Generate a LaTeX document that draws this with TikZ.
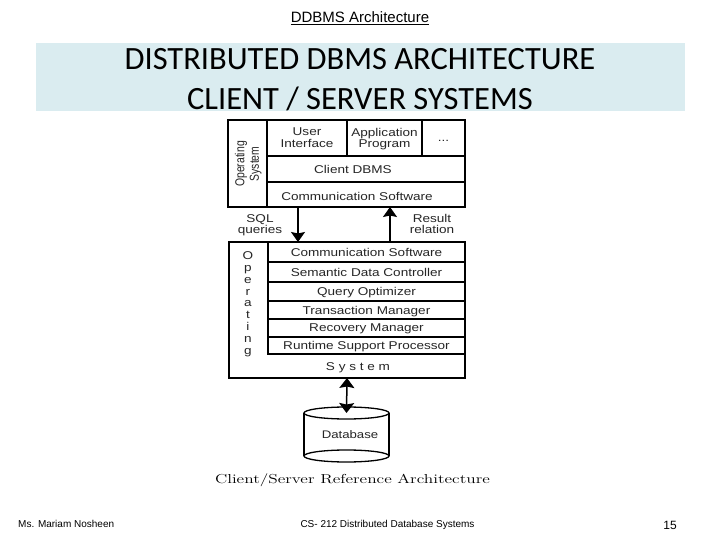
\documentclass[tikz,border=0pt]{standalone}
\usepackage{fontspec}
\usepackage{graphicx}
\usetikzlibrary {arrows.meta}
\newfontfamily\boxfont[FakeStretch=1.2]{Liberation Sans}
\newfontfamily\tallfont[FakeStretch=0.8]{Liberation Sans}
\newfontfamily\slidefont{Liberation Sans}
\newfontfamily\titlefont{Carlito}
\definecolor{band}{RGB}{218,236,240}
\tikzset{
	cell/.style = {draw, line width = 1.3pt, inner sep = 0pt, outer sep = 0pt, align = center, text depth = 0pt, text = black!85, font = \boxfont\fontsize{11.3}{11.8}\selectfont},
	lowcell/.style = {cell, text depth = -2pt},
	free/.style = {inner sep = 0pt, align = center, text depth = 0pt, text = black!85, font = \boxfont\fontsize{11.3}{11.8}\selectfont},
	flow/.style = {line width = 1.5pt, arrows = {-Stealth[length = 10pt, width = 14pt, inset = 1.5pt]}},
	foot/.style = {inner sep = 0pt, font = \slidefont\fontsize{10}{12}\selectfont}
}

\begin{document}
\begin{tikzpicture}[x = 1pt, y = -1pt]
		\useasboundingbox[fill = white] (0, 0) rectangle (720, 540);
		\node[inner sep = 0pt, font = \slidefont\fontsize{15}{17}\selectfont] (header) at (360, 18) {\underline{DDBMS Architecture}};
		\node[fill = band, minimum width = 649, minimum height = 68, inner sep = 0pt] (titleband) at (360.5, 77) {};
		\node[inner sep = 0pt, align = center, font = \titlefont\fontsize{32.5}{40}\selectfont] (title) at (360, 80) {DISTRIBUTED DBMS ARCHITECTURE\\CLIENT / SERVER SYSTEMS};

		% client side
		\node[cell, minimum width = 39, minimum height = 87] (clientos) at (247.5, 163.5) {};
		\node[free, rotate = 90, font = \tallfont\fontsize{13}{14.5}\selectfont] (clientoslabel) at (247, 164) {Operating\\System};
		\node[lowcell, minimum width = 80, minimum height = 36] (user) at (307, 138) {User\\Interface};
		\node[lowcell, minimum width = 75, minimum height = 36] (app) at (384.5, 138) {Application\\Program};
		\node[cell, minimum width = 43, minimum height = 36, text height = 8pt] (more) at (443.5, 138) {...};
		\node[cell, minimum width = 198, minimum height = 26] (clientdbms) at (366, 169) {};
		\node[cell, minimum width = 198, minimum height = 25] (clientcomm) at (366, 194.5) {};
		\node[free] (clientdbmslabel) at (353, 169) {Client DBMS};
		\node[free] (clientcommlabel) at (357, 196) {Communication Software};

		% server side
		\node[cell, minimum width = 236, minimum height = 136] (serverbox) at (347, 310) {};
		\node[lowcell, minimum width = 197, minimum height = 20] (servercomm) at (366.5, 252) {Communication Software};
		\node[lowcell, minimum width = 197, minimum height = 20] (semantic) at (366.5, 272) {Semantic Data Controller};
		\node[lowcell, minimum width = 197, minimum height = 19] (optimizer) at (366.5, 291.5) {Query Optimizer};
		\node[lowcell, minimum width = 197, minimum height = 18] (transaction) at (366.5, 310) {Transaction Manager};
		\node[lowcell, minimum width = 197, minimum height = 18] (recovery) at (366.5, 328) {Recovery Manager};
		\node[lowcell, minimum width = 197, minimum height = 17] (runtime) at (366.5, 345.5) {Runtime Support Processor};
		\node[free, font = \boxfont\fontsize{11.3}{11.9}\selectfont] (oslabel) at (248, 303) {O\\p\\e\\r\\a\\t\\i\\n\\g};
		\node[free] (syslabel) at (358, 367) {S y s t e m};

		% arrows between the two
		\coordinate (sqlx) at (298, 0);
		\coordinate (resultx) at (390, 0);
		\draw[flow] (clientcomm.south -| sqlx) -- (serverbox.north -| sqlx);
		\draw[flow] (serverbox.north -| resultx) -- (clientcomm.south -| resultx);
		\node[free] (sql) at (260, 224) {SQL\\queries};
		\node[free] (result) at (432, 224) {Result\\relation};

		% database
		\coordinate (dbtop) at (346.5, 413);
		\coordinate (dbbase) at (346.5, 456);
		\draw[line width = 1.3pt] (dbtop) ellipse [x radius = 42.5, y radius = 6];
		\draw[line width = 1.3pt] (dbbase) ellipse [x radius = 42.5, y radius = 6];
		\draw[line width = 1.3pt] (304, 413) -- (304, 456);
		\draw[line width = 1.3pt] (389, 413) -- (389, 456);
		\node[free, font = \boxfont\fontsize{11}{12}\selectfont] (dblabel) at (350, 435) {Database};
		\draw[line width = 1.5pt, arrows = {Stealth[length = 10pt, width = 15pt, inset = 1.5pt]-Stealth[length = 10pt, width = 15pt, inset = 1.5pt]}] (serverbox.south) -- (dbtop);
		\node[inner sep = 0pt, font = \fontsize{13}{15}\selectfont] (caption) at (352.5, 480) {\scalebox{1.335}[1]{Client/Server Reference Architecture}};

		% footer
		\node[foot, anchor = west] (author) at (18, 524) {Ms. Mariam Nosheen};
		\node[foot] (course) at (387.5, 524.5) {CS- 212 Distributed Database Systems};
		\node[inner sep = 0pt, font = \slidefont\fontsize{12}{14}\selectfont] (page) at (670, 525) {15};
	\end{tikzpicture}
\end{document}
